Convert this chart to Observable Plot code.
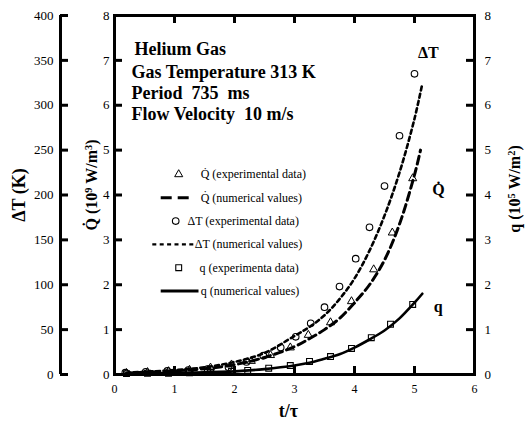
<!DOCTYPE html>
<html><head><meta charset="utf-8">
<script src="https://cdn.jsdelivr.net/npm/d3@7"></script>
<script src="https://cdn.jsdelivr.net/npm/@observablehq/plot@0.6"></script>
<style>body{margin:0;background:#fff}#chart{width:525px;height:430px}</style>
</head><body><div id="chart"></div>
<script>
// ---------- data ----------
const xTicks = [0, 1, 2, 3, 4, 5, 6];
const rateTicks = [0, 1, 2, 3, 4, 5, 6, 7, 8];           // Q̇ (10^9 W/m^3) and q (10^5 W/m^2)
const dTTicks = [0, 50, 100, 150, 200, 250, 300, 350, 400]; // ΔT (K)

// ΔT experimental data [t/τ, K]
const dTExp = [[0.18,2],[0.52,3],[0.88,4],[1.23,5],[1.55,6],[1.9,8],[2.2,14],[2.48,21],[2.77,30],
  [3.02,42],[3.27,57],[3.5,75],[3.75,98],[4.02,129],[4.25,164],[4.5,210],[4.75,266],[5.0,335]];
// ΔT numerical values [t/τ, K]
const dTNum = [[0.2,2],[0.5,3],[1.0,5],[1.5,8],[2.0,14],[2.5,24],[3.0,43],[3.25,53],[3.5,66],
  [3.75,84],[4.0,107],[4.25,138],[4.5,177],[4.75,225],[5.0,285],[5.13,324]];
// Q̇ experimental data [t/τ, 10^9 W/m^3]
const qvExp = [[0.2,0.03],[0.55,0.05],[0.9,0.07],[1.25,0.1],[1.6,0.15],[1.95,0.22],[2.28,0.3],
  [2.6,0.43],[2.93,0.6],[3.23,0.88],[3.6,1.16],[3.95,1.63],[4.32,2.34],[4.63,3.16],[4.97,4.37]];
// Q̇ numerical values
const qvNum = [[0.2,0.03],[0.5,0.05],[1.0,0.08],[1.5,0.13],[2.0,0.22],[2.5,0.38],[3.0,0.62],
  [3.25,0.8],[3.5,1.0],[3.75,1.25],[4.0,1.6],[4.25,2.0],[4.5,2.55],[4.75,3.35],[5.0,4.45],[5.1,5.0]];
// q experimental data [t/τ, 10^5 W/m^2]
const qsExp = [[0.2,0.02],[0.55,0.03],[0.9,0.03],[1.25,0.04],[1.6,0.05],[1.95,0.07],[2.22,0.09],
  [2.57,0.14],[2.93,0.2],[3.25,0.29],[3.6,0.4],[3.95,0.58],[4.28,0.82],[4.6,1.12],[4.97,1.56]];
// q numerical values
const qsNum = [[0.2,0.02],[0.5,0.025],[1.0,0.035],[1.5,0.05],[2.0,0.07],[2.5,0.12],[3.0,0.2],
  [3.25,0.26],[3.5,0.35],[3.75,0.45],[4.0,0.6],[4.25,0.78],[4.5,0.98],[4.75,1.25],[5.0,1.6],[5.13,1.8]];

const legendLabels = ["Q\u0307 (experimental data)", "Q\u0307 (numerical values)",
  "\u0394T (experimental data)", "\u0394T (numerical values)",
  "q (experimenta data)", "q (numerical values)"];
const infoTitle = "Helium Gas";
const infoLines = ["Gas Temperature 313 K", "Period\u00a0 735\u00a0 ms", "Flow Velocity\u00a0 10 m/s"];

// ---------- layout / style ----------
const W = 525, H = 430, ML = 114, MR = 51, MT = 15, MB = 56;
const PW = W - ML - MR, PH = H - MT - MB;
const TICK = 8;
const K2Y = 8 / 400; // ΔT axis: 400 K ↔ 8 on the rate axis
const FONT = "'Liberation Serif','Times New Roman',Times,serif";
const DASH_DT = "4,3.4", DASH_QV = "8,4.5";

// legend layout (data units)
const legY = i => 4.46 - 0.52 * i;
const legTextX = [1.42, 1.42, 1.2, 1.32, 1.4, 1.42];

const T = d => d[0];
const legendMarks = [
  Plot.dot([0], {x: () => 1.07, y: () => legY(0), symbol: "triangle", r: 3, stroke: "black", fill: "none", strokeWidth: 1}),
  Plot.link([0], {x1: () => 0.77, x2: () => 1.33, y1: () => legY(1), y2: () => legY(1), strokeWidth: 3, strokeDasharray: "11,6"}),
  Plot.dot([0], {x: () => 1.02, y: () => legY(2), symbol: "circle", r: 3.3, stroke: "black", fill: "none", strokeWidth: 1.1}),
  Plot.link([0], {x1: () => 0.63, x2: () => 1.32, y1: () => legY(3), y2: () => legY(3), strokeWidth: 2.2, strokeDasharray: DASH_DT}),
  Plot.dot([0], {x: () => 1.07, y: () => legY(4), symbol: "square", r: 3.3, stroke: "black", fill: "none", strokeWidth: 1.1}),
  Plot.link([0], {x1: () => 0.77, x2: () => 1.4, y1: () => legY(5), y2: () => legY(5), strokeWidth: 3}),
  Plot.text(legendLabels, {x: (d, i) => legTextX[i], y: (d, i) => legY(i), text: d => d, textAnchor: "start", dx: 1, fontSize: 12})
];

const chart = Plot.plot({
  width: W, height: H,
  marginLeft: ML, marginRight: MR, marginTop: MT, marginBottom: MB,
  x: {domain: [0, 6]},
  y: {domain: [0, 8]},
  style: {fontFamily: FONT, fontSize: "13px", color: "black", background: "white", overflow: "visible"},
  marks: [
    // frame & inward ticks
    Plot.frame({strokeWidth: 3}),
    Plot.tickY(rateTicks, {y: d => d, insetRight: PW - TICK, strokeWidth: 3}),
    Plot.tickY(rateTicks, {y: d => d, insetLeft: PW - TICK, strokeWidth: 3}),
    Plot.tickX(xTicks, {x: d => d, insetTop: PH - TICK, strokeWidth: 3}),
    Plot.tickX(xTicks, {x: d => d, insetBottom: PH - TICK, strokeWidth: 3}),
    // separate ΔT axis
    Plot.ruleX([0], {x: d => d, dx: -54, strokeWidth: 3}),
    Plot.tickY(dTTicks, {y: d => d * K2Y, dx: -54, insetRight: PW - TICK, strokeWidth: 3}),
    Plot.text(dTTicks, {frameAnchor: "left", y: d => d * K2Y, text: d => String(d), textAnchor: "end", dx: -61, fontSize: 13}),
    // tick labels
    Plot.axisY(rateTicks, {anchor: "left", tickSize: 0, tickPadding: 5, label: null, fontSize: 13}),
    Plot.axisY(rateTicks, {anchor: "right", tickSize: 0, tickPadding: 10, label: null, fontSize: 13}),
    Plot.axisX(xTicks, {tickSize: 0, tickPadding: 10, label: null, fontSize: 12}),
    // axis titles
    Plot.text(["t/\u03c4"], {frameAnchor: "bottom", textAnchor: "middle", dy: 42, dx: -6, fontSize: 18, fontWeight: "bold"}),
    Plot.text(["\u0394T (K)"], {frameAnchor: "left", textAnchor: "middle", dx: -95, rotate: -90, fontSize: 18, fontWeight: "bold"}),
    Plot.text(["Q\u0307 (10^9 W/m^3)"], {frameAnchor: "left", textAnchor: "middle", dx: -23, dy: -10, rotate: -90, fontSize: 16, fontWeight: "bold"}),
    Plot.text(["q (10^5 W/m^2)"], {frameAnchor: "right", textAnchor: "middle", dx: 40, dy: -6, rotate: -90, fontSize: 16, fontWeight: "bold"}),
    // info box
    Plot.text([infoTitle], {frameAnchor: "top-left", dx: 20, dy: 27, textAnchor: "start", fontSize: 18, fontWeight: "bold"}),
    Plot.text([infoLines.join("\n")], {frameAnchor: "top-left", dx: 17, dy: 48, textAnchor: "start", lineAnchor: "top", lineHeight: 1.15, fontSize: 18, fontWeight: "bold"}),
    // numerical curves
    Plot.line(dTNum, {x: T, y: d => d[1] * K2Y, curve: "catmull-rom", strokeWidth: 2.6, strokeDasharray: DASH_DT}),
    Plot.line(qvNum, {x: T, y: d => d[1], curve: "catmull-rom", strokeWidth: 3, strokeDasharray: DASH_QV}),
    Plot.line(qsNum, {x: T, y: d => d[1], curve: "catmull-rom", strokeWidth: 2.6}),
    // experimental points
    Plot.dot(dTExp, {x: T, y: d => d[1] * K2Y, symbol: "circle", r: 3.3, stroke: "black", fill: "none", strokeWidth: 1.1}),
    Plot.dot(qvExp, {x: T, y: d => d[1], symbol: "triangle", r: 3, stroke: "black", fill: "none", strokeWidth: 1}),
    Plot.dot(qsExp, {x: T, y: d => d[1], symbol: "square", r: 3.3, stroke: "black", fill: "none", strokeWidth: 1.1}),
    // curve labels attached to curve ends
    Plot.text(dTNum.slice(-1), {x: T, y: d => d[1] * K2Y, text: () => "\u0394T", dx: 6, dy: -31, fontSize: 16, fontWeight: "bold"}),
    Plot.text(qvNum.slice(-1), {x: T, y: d => d[1], text: () => "Q\u0307", dx: 18, dy: 40, fontSize: 16, fontWeight: "bold"}),
    Plot.text(qsNum.slice(-1), {x: T, y: d => d[1], text: () => "q", dx: 16, dy: 13, fontSize: 16, fontWeight: "bold"}),
    ...legendMarks
  ]
});

// turn "^n" into real superscript tspans
d3.select(chart).selectAll("text").each(function () {
  const el = d3.select(this);
  if (el.selectAll("tspan").size() > 0) return;
  const s = this.textContent;
  if (!s.includes("^")) return;
  el.text(null);
  s.split(/(\^\d)/).forEach(part => {
    if (!part) return;
    if (part[0] === "^") {
      el.append("tspan").attr("baseline-shift", "super").attr("font-size", "0.65em").text(part.slice(1));
    } else {
      el.append("tspan").text(part);
    }
  });
});

document.getElementById("chart").appendChild(chart);
</script></body></html>
